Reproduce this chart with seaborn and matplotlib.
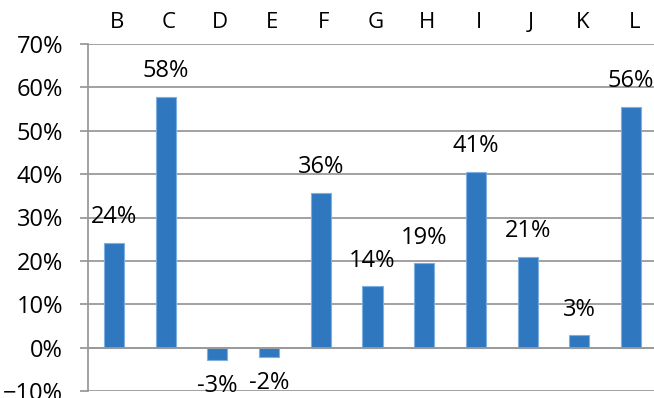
import matplotlib
matplotlib.use("Agg")
import matplotlib.pyplot as plt
import matplotlib.transforms as mtransforms
from matplotlib.ticker import PercentFormatter, FixedLocator
import pandas as pd
import seaborn as sns

CATEGORIES = ["B", "C", "D", "E", "F", "G", "H", "I", "J", "K", "L"]
VALUES = [0.242, 0.578, -0.028, -0.021, 0.357, 0.141, 0.194, 0.405, 0.209, 0.028, 0.555]
LABELS = ["24%", "58%", "-3%", "-2%", "36%", "14%", "19%", "41%", "21%", "3%", "56%"]

BAR_COLOR = "#2F78C0"
GRID_COLOR = "#9A9A9A"

sns.set_style("white")
plt.rcParams["font.family"] = ["Open Sans", "DejaVu Sans"]
plt.rcParams["text.color"] = "black"

df = pd.DataFrame({"cat": CATEGORIES, "val": VALUES})

fig = plt.figure(figsize=(6.54, 3.98), dpi=100)
ax = fig.add_axes([88 / 654, 1 - 391 / 398, (657 - 88) / 654, (391 - 44) / 398])

sns.barplot(data=df, x="cat", y="val", color=BAR_COLOR, saturation=1,
            width=0.39, edgecolor="#7FAEE0", linewidth=0.8, ax=ax, zorder=3)

ax.set_ylim(-0.1, 0.7)
ax.set_xlim(-0.5, len(CATEGORIES) - 0.5)
ax.yaxis.set_major_locator(FixedLocator([i / 10 for i in range(-1, 8)]))
ax.yaxis.set_major_formatter(PercentFormatter(1.0, decimals=0))
ax.grid(axis="y", color=GRID_COLOR, linewidth=1.3, zorder=0)
ax.tick_params(axis="y", direction="out", length=6, width=1.3, color=GRID_COLOR,
               pad=12, labelsize=17, labelcolor="black", left=True)
ax.set_xlabel("")
ax.set_ylabel("")

for side in ["top", "right"]:
    ax.spines[side].set_visible(False)
ax.spines["left"].set_color(GRID_COLOR)
ax.spines["left"].set_linewidth(1.3)
ax.spines["bottom"].set_position(("data", 0))
ax.spines["bottom"].set_color(GRID_COLOR)
ax.spines["bottom"].set_linewidth(1.3)
ax.spines["bottom"].set_zorder(4)

# category boundary ticks under the zero line
ax.xaxis.set_minor_locator(FixedLocator([i + 0.5 for i in range(len(CATEGORIES) - 1)]))
ax.tick_params(axis="x", which="major", length=0, labelbottom=False)
ax.tick_params(axis="x", which="minor", direction="out", length=6, width=1.3,
               color=GRID_COLOR)

# category letters on top
top = ax.secondary_xaxis("top")
top.set_xticks(range(len(CATEGORIES)))
top.set_xticklabels(CATEGORIES, fontsize=16, color="black")
top.tick_params(length=0, pad=8)
top.spines["top"].set_visible(False)
offset = mtransforms.ScaledTranslation(3 / 100, 0, fig.dpi_scale_trans)
for lbl in top.get_xticklabels():
    lbl.set_transform(lbl.get_transform() + offset)

ax.bar_label(ax.containers[0], labels=LABELS, padding=10, fontsize=17,
             color="black", zorder=5)

fig.savefig("out.png", dpi=100)
